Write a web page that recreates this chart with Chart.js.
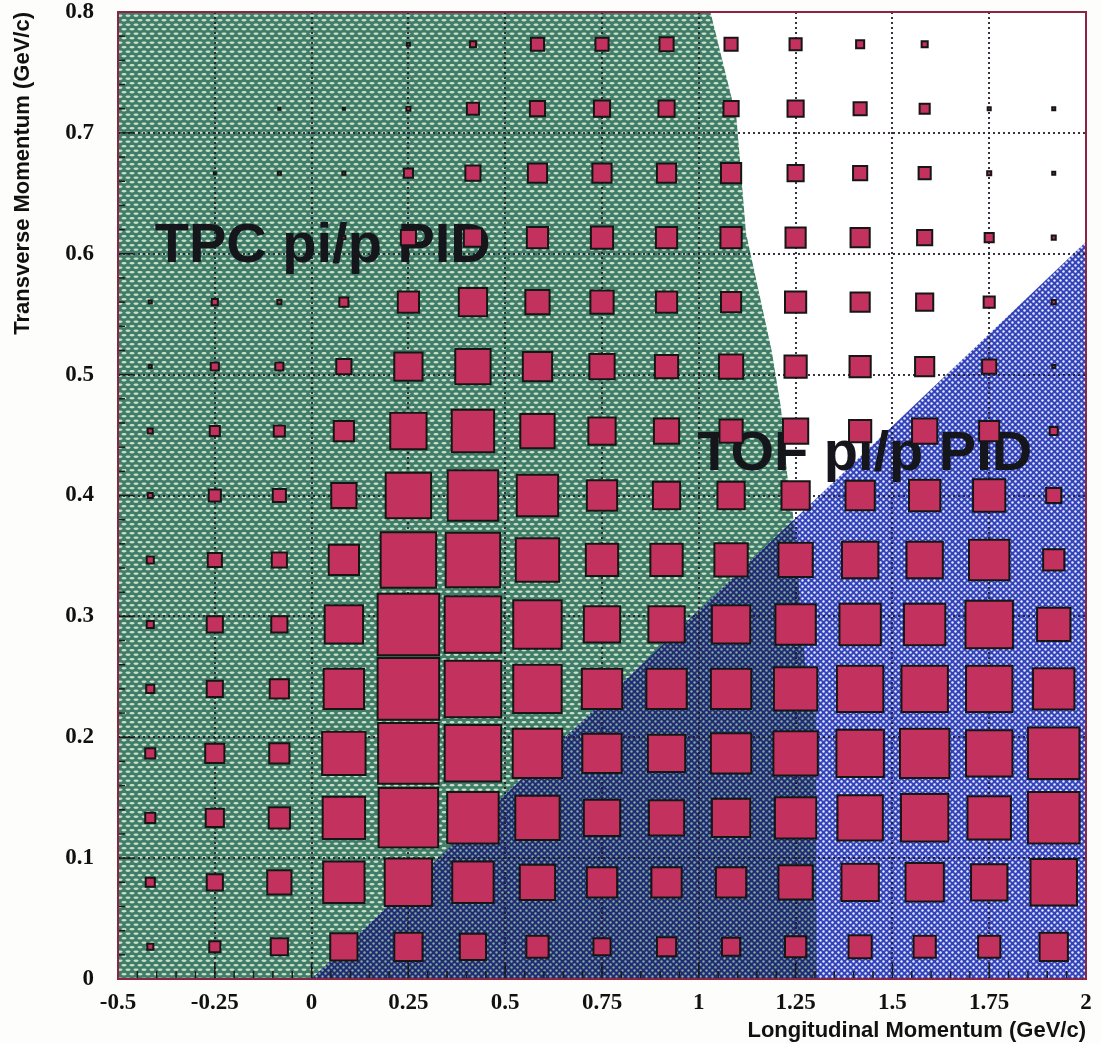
<!DOCTYPE html>
<html>
<head>
<meta charset="utf-8">
<script src="https://cdn.jsdelivr.net/npm/chart.js@4.4.1/dist/chart.umd.min.js"></script>
<style>
  html, body { margin: 0; padding: 0; background: #fdfdfb; }
  #wrap { width: 1101px; height: 1044px; position: relative; }
  canvas { display: block; }
</style>
</head>
<body>
<div id="wrap"><canvas id="c" width="1101" height="1044"></canvas></div>
<script>
// ---------- data ----------
// bin centres of the 15 x 15 histogram
const xBinCenters = [-0.41667, -0.25, -0.08333, 0.08333, 0.25, 0.41667, 0.58333, 0.75,
                     0.91667, 1.08333, 1.25, 1.41667, 1.58333, 1.75, 1.91667];
const yBinCenters = [0.02667, 0.08, 0.13333, 0.18667, 0.24, 0.29333, 0.34667, 0.4,
                     0.45333, 0.50667, 0.56, 0.61333, 0.66667, 0.72, 0.77333];
// bin contents (relative counts), one array per transverse-momentum row, bottom to top
const countsRow00 = [ 8, 13, 19, 29, 30, 28, 24, 19, 21, 20, 23, 25, 24, 24, 30];
const countsRow01 = [11, 18, 26, 43, 49, 43, 37, 32, 32, 32, 36, 39, 40, 38, 48];
const countsRow02 = [12, 20, 23, 44, 61, 53, 46, 38, 37, 40, 43, 47, 49, 45, 53];
const countsRow03 = [12, 21, 22, 45, 62, 58, 51, 41, 39, 42, 46, 49, 51, 48, 53];
const countsRow04 = [10, 18, 21, 42, 63, 58, 50, 42, 42, 42, 45, 48, 48, 48, 43];
const countsRow05 = [ 9, 18, 18, 40, 63, 58, 50, 38, 38, 40, 42, 43, 43, 49, 35];
const countsRow06 = [ 9, 16, 17, 32, 57, 56, 45, 34, 34, 35, 36, 38, 38, 42, 23];
const countsRow07 = [ 7, 14, 15, 27, 47, 52, 43, 32, 29, 29, 30, 31, 33, 34, 17];
const countsRow08 = [ 7, 12, 13, 22, 38, 44, 36, 29, 27, 25, 27, 24, 27, 22, 10];
const countsRow09 = [ 5, 10, 10, 17, 30, 37, 31, 27, 25, 26, 24, 23, 21, 16,  5];
const countsRow10 = [ 5,  8,  6, 11, 23, 30, 26, 25, 23, 22, 23, 21, 19, 13,  6];
const countsRow11 = [ 0,  0,  0,  5, 17, 20, 23, 24, 23, 23, 22, 21, 17, 11,  6];
const countsRow12 = [ 0,  4,  5,  5, 11, 17, 21, 21, 21, 22, 18, 16, 14,  6,  5];
const countsRow13 = [ 0,  0,  4,  4,  6, 14, 17, 18, 18, 17, 18, 15, 12,  5,  5];
const countsRow14 = [ 0,  0,  0,  0,  5,  8, 15, 15, 16, 15, 14, 10,  8,  0,  0];
const countRows = [countsRow00, countsRow01, countsRow02, countsRow03, countsRow04,
                   countsRow05, countsRow06, countsRow07, countsRow08, countsRow09,
                   countsRow10, countsRow11, countsRow12, countsRow13, countsRow14];
// axis tick labels
const xTickValues = [-0.5, -0.25, 0, 0.25, 0.5, 0.75, 1, 1.25, 1.5, 1.75, 2];
const xTickLabels = ['-0.5', '-0.25', '0', '0.25', '0.5', '0.75', '1', '1.25', '1.5', '1.75', '2'];
const yTickValues = [0, 0.1, 0.2, 0.3, 0.4, 0.5, 0.6, 0.7, 0.8];
const yTickLabels = ['0', '0.1', '0.2', '0.3', '0.4', '0.5', '0.6', '0.7', '0.8'];
// acceptance regions (boundary vertices in momentum coordinates)
const tpcRegion = [[-0.5, 0], [-0.5, 0.8], [1.03, 0.8], [1.097, 0.713], [1.122, 0.617],
                   [1.188, 0.52], [1.212, 0.473], [1.228, 0.418], [1.243, 0.385],
                   [1.277, 0.252], [1.302, 0.23], [1.304, 0]];
const tofRegion = [[0, 0], [2, 0.61], [2, 0]];
const regionLabels = ['TPC pi/p PID', 'TOF pi/p PID'];

// ---------- derived ----------
const X_MIN = -0.5, X_MAX = 2, Y_MIN = 0, Y_MAX = 0.8;
const xBinWidth = (X_MAX - X_MIN) / xBinCenters.length;
const maxCount = Math.max(...countRows.map(r => Math.max(...r)));
const points = [];
countRows.forEach((row, j) => row.forEach((v, i) => {
  if (v > 0) points.push({ x: xBinCenters[i], y: yBinCenters[j], v: v });
}));

const BOX_BORDER = 2;
function boxRadius(ctx) {
  const raw = ctx.raw;
  if (!raw) return 0;
  const xs = ctx.chart.scales.x;
  const cell = Math.abs(xs.getPixelForValue(xBinWidth) - xs.getPixelForValue(0));
  const side = raw.v / maxCount * cell * 0.985;
  return Math.max(0.5, (side - BOX_BORDER) / Math.SQRT2);
}

// ---------- hatch patterns ----------
const mainCtx = document.getElementById('c').getContext('2d');
function makePattern(w, h, bg, fg, drawFn) {
  const t = document.createElement('canvas');
  t.width = w; t.height = h;
  const c = t.getContext('2d');
  c.fillStyle = bg; c.fillRect(0, 0, w, h);
  c.fillStyle = fg;
  drawFn(c, w, h);
  return mainCtx.createPattern(t, 'repeat');
}
const greenPattern = makePattern(8, 9, '#3f7c6a', '#cce2c4', (c) => {
  const ell = (cx, cy) => { c.beginPath(); c.ellipse(cx, cy, 2.6, 1.15, 0, 0, Math.PI * 2); c.fill(); };
  ell(4, 2.25); ell(0, 6.75); ell(8, 6.75);
});
const bluePattern = makePattern(6, 6, '#3444b8', '#e6eaff', (c) => {
  const dot = (cx, cy) => { c.beginPath(); c.arc(cx, cy, 1.2, 0, Math.PI * 2); c.fill(); };
  dot(1.5, 1.5); dot(4.5, 4.5);
});
const darkPattern = makePattern(6, 6, '#222a74', '#7fae9c', (c) => {
  const dot = (cx, cy) => { c.beginPath(); c.arc(cx, cy, 1.2, 0, Math.PI * 2); c.fill(); };
  dot(1.5, 1.5); dot(4.5, 4.5);
});

// ---------- plugins ----------
const backgroundPlugin = {
  id: 'acceptanceRegions',
  beforeDraw(chart) {
    const { ctx, chartArea: a, scales: { x, y } } = chart;
    ctx.save();
    ctx.fillStyle = '#fdfdfb';
    ctx.fillRect(0, 0, chart.width, chart.height);
    ctx.fillStyle = '#ffffff';
    ctx.fillRect(a.left, a.top, a.right - a.left, a.bottom - a.top);
    ctx.beginPath();
    ctx.rect(a.left, a.top, a.right - a.left, a.bottom - a.top);
    ctx.clip();
    const path = (pts) => {
      ctx.beginPath();
      pts.forEach((p, i) => {
        const px = x.getPixelForValue(p[0]), py = y.getPixelForValue(p[1]);
        if (i) ctx.lineTo(px, py); else ctx.moveTo(px, py);
      });
      ctx.closePath();
    };
    path(tpcRegion); ctx.fillStyle = greenPattern; ctx.fill();
    path(tofRegion); ctx.fillStyle = bluePattern; ctx.fill();
    path(tpcRegion); ctx.clip();
    path(tofRegion); ctx.fillStyle = darkPattern; ctx.fill();
    ctx.restore();
  },
  beforeDatasetsDraw(chart, args, opts) {
    const { ctx, chartArea: a, scales: { x, y } } = chart;
    ctx.save();
    // dotted grid
    ctx.strokeStyle = 'rgba(38,28,44,0.9)';
    ctx.lineWidth = 2;
    ctx.setLineDash([2, 3]);
    xTickValues.forEach(v => {
      if (v <= X_MIN || v >= X_MAX) return;
      const px = Math.round(x.getPixelForValue(v));
      ctx.beginPath(); ctx.moveTo(px, a.top); ctx.lineTo(px, a.bottom); ctx.stroke();
    });
    yTickValues.forEach(v => {
      if (v <= Y_MIN || v >= Y_MAX) return;
      const py = Math.round(y.getPixelForValue(v));
      ctx.beginPath(); ctx.moveTo(a.left, py); ctx.lineTo(a.right, py); ctx.stroke();
    });
    ctx.setLineDash([]);
    // inner tick marks (major + minor)
    ctx.strokeStyle = '#1b1b1b';
    ctx.lineWidth = 1.5;
    for (let k = 0; k <= 40; k++) {
      const py = y.getPixelForValue(k * 0.02);
      const len = (k % 5 === 0) ? 15 : 7;
      ctx.beginPath(); ctx.moveTo(a.left, py); ctx.lineTo(a.left + len, py); ctx.stroke();
    }
    for (let k = 0; k <= 50; k++) {
      const px = x.getPixelForValue(X_MIN + k * 0.05);
      const len = (k % 5 === 0) ? 15 : 8;
      ctx.beginPath(); ctx.moveTo(px, a.bottom); ctx.lineTo(px, a.bottom - len); ctx.stroke();
    }
    // region labels (drawn below the boxes)
    ctx.fillStyle = '#15151c';
    ctx.font = 'bold 56px "Liberation Sans", Arial, sans-serif';
    ctx.textAlign = 'left';
    ctx.textBaseline = 'alphabetic';
    (opts.items || []).forEach(it => {
      ctx.fillText(it.text, x.getPixelForValue(it.x), y.getPixelForValue(it.y));
    });
    ctx.restore();
  },
  afterDatasetsDraw(chart) {
    const { ctx, chartArea: a } = chart;
    ctx.save();
    ctx.strokeStyle = '#8c2444';
    ctx.lineWidth = 2;
    ctx.strokeRect(a.left, a.top, a.right - a.left, a.bottom - a.top);
    ctx.restore();
  }
};

const tickFont = { family: '"Liberation Serif", "Times New Roman", serif', weight: 'bold', size: 23, lineHeight: 1 };
const titleFont = { family: '"Liberation Sans", Arial, sans-serif', weight: 'bold', size: 22, lineHeight: 1.2 };
const zeroPadding = (s) => { s.paddingTop = 0; s.paddingBottom = 0; s.paddingLeft = 0; s.paddingRight = 0; };

new Chart(document.getElementById('c'), {
  type: 'scatter',
  data: {
    datasets: [{
      label: 'counts',
      data: points,
      pointStyle: 'rect',
      pointRadius: boxRadius,
      pointHoverRadius: boxRadius,
      pointBackgroundColor: '#c3325f',
      pointBorderColor: '#161616',
      pointBorderWidth: BOX_BORDER,
      pointHoverBorderWidth: BOX_BORDER
    }]
  },
  options: {
    responsive: false,
    animation: false,
    events: [],
    layout: { padding: { top: 12, right: 15, left: 0, bottom: 0 } },
    plugins: {
      legend: { display: false },
      tooltip: { enabled: false },
      acceptanceRegions: {
        items: [
          { text: regionLabels[0], x: -0.405, y: 0.593 },
          { text: regionLabels[1], x: 0.996, y: 0.421 }
        ]
      }
    },
    scales: {
      x: {
        type: 'linear', min: X_MIN, max: X_MAX,
        afterBuildTicks: (s) => { s.ticks = xTickValues.map(v => ({ value: v })); },
        afterFit: (s) => { s.height = 65; zeroPadding(s); },
        ticks: {
          autoSkip: false, maxRotation: 0, minRotation: 0, padding: 13,
          color: '#111', font: tickFont,
          callback: (v) => { const i = xTickValues.indexOf(v); return i >= 0 ? xTickLabels[i] : ''; }
        },
        grid: { display: false, drawTicks: false },
        border: { display: false },
        title: { display: true, text: 'Longitudinal Momentum (GeV/c)', align: 'end',
                 color: '#111', font: titleFont, padding: { top: 0, bottom: 0 } }
      },
      y: {
        type: 'linear', min: Y_MIN, max: Y_MAX,
        afterBuildTicks: (s) => { s.ticks = yTickValues.map(v => ({ value: v })); },
        afterFit: (s) => { s.width = 118; zeroPadding(s); },
        ticks: {
          autoSkip: false, padding: 24,
          color: '#111', font: tickFont,
          callback: (v) => { const i = yTickValues.indexOf(v); return i >= 0 ? yTickLabels[i] : ''; }
        },
        grid: { display: false, drawTicks: false },
        border: { display: false },
        title: { display: true, text: 'Transverse Momentum (GeV/c)', align: 'end',
                 color: '#111', font: titleFont, padding: { top: 10, bottom: 0 } }
      }
    }
  },
  plugins: [backgroundPlugin]
});
</script>
</body>
</html>
